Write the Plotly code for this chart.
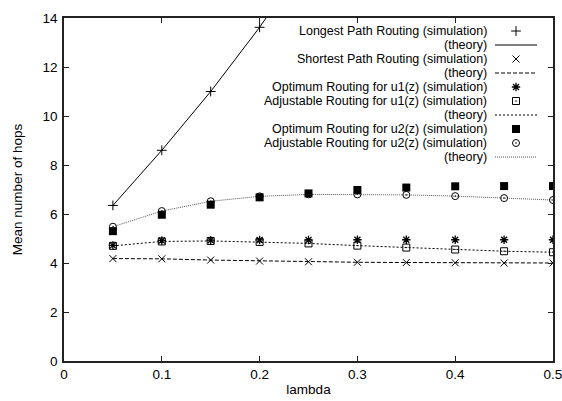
import plotly.graph_objects as go

# ---------------- data ----------------
lam = [0.05, 0.10, 0.15, 0.20, 0.25, 0.30, 0.35, 0.40, 0.45, 0.50]

lam_longest_sim = [0.05, 0.10, 0.15, 0.20]
longest_sim = [6.35, 8.60, 11.00, 13.62]
lam_longest_th = [0.05, 0.10, 0.15, 0.20, 0.25]
longest_th = [6.35, 8.60, 11.00, 13.62, 16.50]

shortest_sim = [4.18, 4.17, 4.12, 4.08, 4.05, 4.03, 4.02, 4.01, 4.00, 4.00]
shortest_th = [4.18, 4.17, 4.12, 4.08, 4.05, 4.03, 4.02, 4.01, 4.00, 4.00]

opt_u1_sim = [4.72, 4.92, 4.93, 4.94, 4.94, 4.95, 4.95, 4.95, 4.95, 4.95]
adj_u1_sim = [4.70, 4.88, 4.90, 4.86, 4.80, 4.71, 4.63, 4.55, 4.48, 4.44]
u1_th = [4.70, 4.88, 4.90, 4.86, 4.80, 4.71, 4.63, 4.55, 4.48, 4.44]

opt_u2_sim = [5.30, 5.97, 6.38, 6.68, 6.84, 6.98, 7.08, 7.13, 7.14, 7.14]
adj_u2_sim = [5.48, 6.12, 6.52, 6.72, 6.80, 6.80, 6.78, 6.73, 6.65, 6.57]
u2_th = [5.48, 6.12, 6.52, 6.72, 6.80, 6.80, 6.78, 6.73, 6.65, 6.57]

x_ticks = [0, 0.1, 0.2, 0.3, 0.4, 0.5]
x_ticklabels = ["0", "0.1", "0.2", "0.3", "0.4", "0.5"]
y_ticks = [0, 2, 4, 6, 8, 10, 12, 14]

legend_labels = [
    "Longest Path Routing (simulation)",
    "(theory)",
    "Shortest Path Routing (simulation)",
    "(theory)",
    "Optimum Routing for u1(z) (simulation)",
    "Adjustable Routing for u1(z) (simulation)",
    "(theory)",
    "Optimum Routing for u2(z) (simulation)",
    "Adjustable Routing for u2(z) (simulation)",
    "(theory)",
]

# ---------------- styles ----------------
FONT = "Liberation Sans, Arial, Helvetica, sans-serif"
FS = 13.5
FS_LEG = 12.5
BLACK = "#000000"

styles = [
    dict(mode="markers", marker=dict(symbol="cross-thin-open", size=7, color=BLACK, line=dict(width=1, color=BLACK))),
    dict(mode="lines", line=dict(color=BLACK, width=1)),
    dict(mode="markers", marker=dict(symbol="x-thin-open", size=7, color=BLACK, line=dict(width=1, color=BLACK))),
    dict(mode="lines", line=dict(color=BLACK, width=1, dash="4px,2px")),
    dict(mode="markers", marker=dict(symbol="asterisk-open", size=7, color=BLACK, line=dict(width=1.3, color=BLACK))),
    dict(mode="markers", marker=dict(symbol="square-open-dot", size=7, color=BLACK, line=dict(width=1, color=BLACK))),
    dict(mode="lines", line=dict(color=BLACK, width=1, dash="2px,2px")),
    dict(mode="markers", marker=dict(symbol="square", size=8, color=BLACK, line=dict(width=0))),
    dict(mode="markers", marker=dict(symbol="circle-open-dot", size=7, color=BLACK, line=dict(width=1, color=BLACK))),
    dict(mode="lines", line=dict(color="#555555", width=1, dash="1px,1px")),
]

series = [
    (lam_longest_sim, longest_sim),
    (lam_longest_th, longest_th),
    (lam, shortest_sim),
    (lam, shortest_th),
    (lam, opt_u1_sim),
    (lam, adj_u1_sim),
    (lam, u1_th),
    (lam, opt_u2_sim),
    (lam, adj_u2_sim),
    (lam, u2_th),
]

fig = go.Figure()

# draw theory lines first, then markers
order = [1, 3, 6, 9, 0, 2, 4, 5, 7, 8]
for i in order:
    xs, ys = series[i]
    st = styles[i]
    fig.add_trace(go.Scatter(x=xs, y=ys, name=legend_labels[i], showlegend=False,
                             cliponaxis=True, **st))

# ---------------- manual legend (gnuplot style: text right, sample at right) ----------------
W, H = 562, 401
ML, MR, MT, MB = 64, 9, 18, 40
pw, ph = W - ML - MR, H - MT - MB

def px2paper_x(px):
    return (px - ML) / pw

def px2paper_y(py):
    return (H - MB - py) / ph

row0, row_step = 31.0, 14.0
text_right = 487
sample_c, sample_l, sample_r = 516, 495, 537

annotations = []
for k, lab in enumerate(legend_labels):
    ypx = row0 + k * row_step
    yp = px2paper_y(ypx)
    annotations.append(dict(x=px2paper_x(text_right), y=yp, xref="paper", yref="paper",
                            text=lab, showarrow=False, xanchor="right", yanchor="middle",
                            borderpad=0, borderwidth=0,
                            font=dict(family=FONT, size=FS_LEG, color=BLACK)))
    st = styles[k]
    if st["mode"] == "lines":
        fig.add_trace(go.Scatter(x=[px2paper_x(sample_l), px2paper_x(sample_r)], y=[yp, yp],
                                 xaxis="x2", yaxis="y2", showlegend=False, hoverinfo="skip", **st))
    else:
        fig.add_trace(go.Scatter(x=[px2paper_x(sample_c)], y=[yp],
                                 xaxis="x2", yaxis="y2", showlegend=False, hoverinfo="skip", **st))

axis_common = dict(showgrid=False, zeroline=False, showline=True, linecolor="#222222",
                   linewidth=1.5, mirror="ticks", ticks="inside", ticklen=5, tickwidth=1,
                   tickcolor="#222222", automargin=False, ticklabeloverflow="allow",
                   tickfont=dict(family=FONT, size=FS, color=BLACK))

fig.update_layout(
    width=W, height=H,
    margin=dict(l=ML, r=MR, t=MT, b=MB),
    paper_bgcolor="white", plot_bgcolor="white",
    font=dict(family=FONT, size=FS, color=BLACK),
    xaxis=dict(range=[0, 0.5], tickvals=x_ticks, ticktext=x_ticklabels,
               title=dict(text="lambda", font=dict(family=FONT, size=FS), standoff=4),
               ticklabelstandoff=0,
               **axis_common),
    yaxis=dict(range=[0, 14], tickvals=y_ticks,
               title=dict(text="Mean number of hops", font=dict(family=FONT, size=FS), standoff=17),
               ticklabelstandoff=2,
               **axis_common),
    xaxis2=dict(overlaying="x", range=[0, 1], visible=False, fixedrange=True),
    yaxis2=dict(overlaying="y", range=[0, 1], visible=False, fixedrange=True),
    annotations=annotations,
    showlegend=False,
)

fig.write_html("out.html")
